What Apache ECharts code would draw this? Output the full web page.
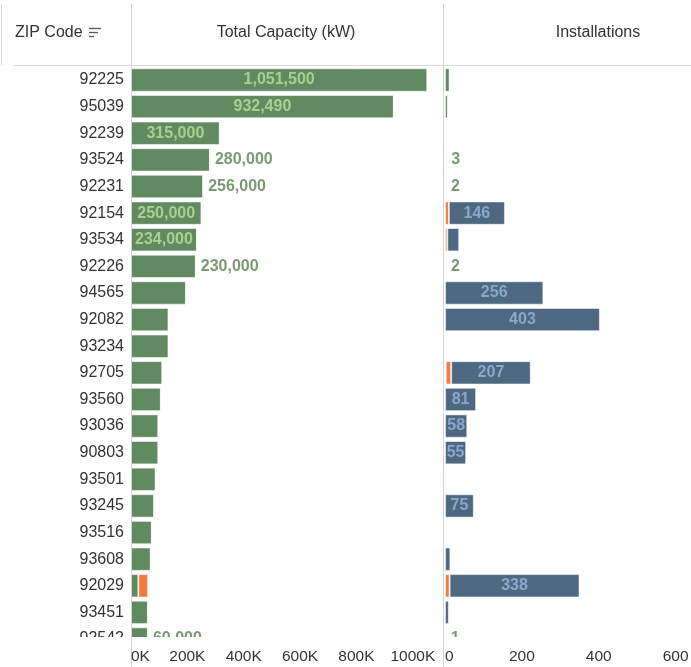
<!DOCTYPE html>
<html>
<head>
<meta charset="utf-8">
<script src="https://cdn.jsdelivr.net/npm/echarts@6/dist/echarts.min.js"></script>
<style>
html,body{margin:0;padding:0;background:#fff;}
#chart{width:691px;height:667px;}
</style>
</head>
<body>
<div id="chart"></div>
<script>
// ---- data ----
const zipCodes = ['92225','95039','92239','93524','92231','92154','93534','92226','94565','92082','93234','92705','93560','93036','90803','93501','93245','93516','93608','92029','93451','92542'];
const capacityMain = [1051500,932490,315000,280000,256000,250000,234000,230000,195000,133000,133000,111000,106000,97000,97000,87000,82000,74000,70000,26000,60000,60000];
const capacityOther = [0,0,0,0,0,0,0,0,0,0,0,0,0,0,0,0,0,0,0,35000,0,0];
const capacityLabelPlace = ['inside','inside','inside','right','right','inside','inside','right','','','','','','','','','','','','','','right'];
const installGreen = [12,8,0,3,2,0,0,2,0,0,0,2,0,0,0,0,0,0,0,0,0,1];
const installOrange = [0,0,0,0,0,10,6,0,0,0,0,14,0,0,0,0,0,0,0,12,0,0];
const installBlue = [0,0,0,0,0,146,31,0,256,403,0,207,81,58,55,3,75,0,14,338,10,0];
const installGreenLabelled = [false,false,false,true,true,false,false,true,false,false,false,false,false,false,false,false,false,false,false,false,false,true];
const installBlueLabelled = [false,false,false,false,false,true,false,false,true,true,false,true,true,true,true,false,true,false,false,true,false,false];
const capTicks = {min:0, max:1100000, interval:200000};
const instTicks = {min:0, max:640, interval:200};

// ---- styles ----
const FONT = "'Liberation Sans', Arial, sans-serif";
const GREEN = '#618a60', ORANGE = '#f47a3d', BLUE = '#4e6882';
const barBorder = {borderColor:'rgba(255,255,255,0.55)', borderWidth:1};
const outLabel = {color:'#799a73', fontFamily:FONT, fontSize:16, fontWeight:'bold', textBorderColor:'#ffffff', textBorderWidth:2};
const TOP = 66.7, ROWH = 26.62, BARH = 23.4;
const gridH = ROWH * zipCodes.length;

const chart = echarts.init(document.getElementById('chart'), null, {renderer:'canvas'});

const fmtNum = v => v.toLocaleString('en-US');

const capMainData = capacityMain.map((v,i) => {
  const place = capacityLabelPlace[i];
  let label = {show:false};
  if (place === 'inside') label = {show:true, position:'inside', color:'#a8d190', fontFamily:FONT, fontSize:16, fontWeight:'bold', formatter: fmtNum(v)};
  else if (place === 'right') label = Object.assign({show:true, position:'right', distance:5, formatter: fmtNum(v)}, outLabel);
  return {value:v, label};
});
const greenInstData = installGreen.map((v,i) => ({value:v, label: installGreenLabelled[i] ? Object.assign({show:true, position:'right', distance:5, formatter:String(v)}, outLabel) : {show:false}}));
const blueInstData = installBlue.map((v,i) => ({value:v, label: installBlueLabelled[i] ? {show:true, position:'inside', color:'#88a8cc', fontFamily:FONT, fontSize:16, fontWeight:'bold', formatter:String(v)} : {show:false}}));

const axisLabelBase = {color:'#333', fontFamily:FONT, fontSize:15.5, margin:-4, interval:0, alignMinLabel:'left', showMaxLabel:false};

const option = {
  animation:false,
  backgroundColor:'#fff',
  grid:[
    {left:131, width:310, top:TOP, height:gridH, containLabel:false, outerBoundsMode:'none'},
    {left:445, width:246, top:TOP, height:gridH, containLabel:false, outerBoundsMode:'none'}
  ],
  xAxis:[
    {type:'value', gridIndex:0, min:capTicks.min, max:capTicks.max, interval:capTicks.interval, z:100,
     axisLine:{show:false}, splitLine:{show:false},
     axisTick:{show:false},
     axisLabel:Object.assign({formatter: v => (v/1000)+'K'}, axisLabelBase)},
    {type:'value', gridIndex:1, min:instTicks.min, max:instTicks.max, interval:instTicks.interval, z:100,
     axisLine:{show:false}, splitLine:{show:false},
     axisTick:{show:false},
     axisLabel:Object.assign({}, axisLabelBase)}
  ],
  yAxis:[
    {type:'category', gridIndex:0, data:zipCodes, inverse:true, z:1,
     axisLine:{show:false}, axisTick:{show:false},
     axisLabel:{color:'#333', fontFamily:FONT, fontSize:16, margin:7}},
    {type:'category', gridIndex:1, data:zipCodes, inverse:true, z:1,
     axisLine:{show:false}, axisTick:{show:false}, axisLabel:{show:false}}
  ],
  series:[
    {type:'bar', name:'Capacity', xAxisIndex:0, yAxisIndex:0, stack:'cap', barWidth:BARH, data:capMainData, itemStyle:Object.assign({color:GREEN}, barBorder)},
    {type:'bar', name:'Capacity other', xAxisIndex:0, yAxisIndex:0, stack:'cap', barWidth:BARH, data:capacityOther, itemStyle:Object.assign({color:ORANGE}, barBorder)},
    {type:'bar', name:'Inst green', xAxisIndex:1, yAxisIndex:1, stack:'inst', barWidth:BARH, data:greenInstData, itemStyle:Object.assign({color:GREEN}, barBorder)},
    {type:'bar', name:'Inst orange', xAxisIndex:1, yAxisIndex:1, stack:'inst', barWidth:BARH, data:installOrange, itemStyle:Object.assign({color:ORANGE}, barBorder)},
    {type:'bar', name:'Inst blue', xAxisIndex:1, yAxisIndex:1, stack:'inst', barWidth:BARH, data:blueInstData, itemStyle:Object.assign({color:BLUE}, barBorder)}
  ],
  graphic:[
    // mask below the clipped last row
    {type:'rect', z:50, silent:true, shape:{x:0, y:637, width:691, height:30}, style:{fill:'#fff'}},
    // faint tick marks under the panes
    // header lines
    {type:'line', z:60, silent:true, shape:{x1:14, y1:65.5, x2:691, y2:65.5}, style:{stroke:'#d9d9d9', lineWidth:1}},
    {type:'line', z:60, silent:true, shape:{x1:1.5, y1:4, x2:1.5, y2:65}, style:{stroke:'#d9d9d9', lineWidth:1}},
    {type:'line', z:60, silent:true, shape:{x1:131.5, y1:4, x2:131.5, y2:667}, style:{stroke:'#d4d4d4', lineWidth:1}},
    {type:'line', z:60, silent:true, shape:{x1:443.5, y1:4, x2:443.5, y2:667}, style:{stroke:'#d4d4d4', lineWidth:1}},
    // header texts
    {type:'text', z:60, silent:true, x:15, y:33, style:{text:'ZIP Code', fill:'#333', font:"16px 'Liberation Sans', Arial, sans-serif", verticalAlign:'middle', align:'left'}},
    {type:'line', z:60, silent:true, shape:{x1:89, y1:28.5, x2:101, y2:28.5}, style:{stroke:'#555', lineWidth:1.3}},
    {type:'line', z:60, silent:true, shape:{x1:89, y1:32.5, x2:98, y2:32.5}, style:{stroke:'#555', lineWidth:1.3}},
    {type:'line', z:60, silent:true, shape:{x1:89, y1:36.5, x2:94, y2:36.5}, style:{stroke:'#555', lineWidth:1.3}},
    {type:'text', z:60, silent:true, x:286, y:33, style:{text:'Total Capacity (kW)', fill:'#333', font:"16px 'Liberation Sans', Arial, sans-serif", verticalAlign:'middle', align:'center'}},
    {type:'text', z:60, silent:true, x:598, y:33, style:{text:'Installations', fill:'#333', font:"16px 'Liberation Sans', Arial, sans-serif", verticalAlign:'middle', align:'center'}}
  ]
};
chart.setOption(option);
</script>
</body>
</html>
